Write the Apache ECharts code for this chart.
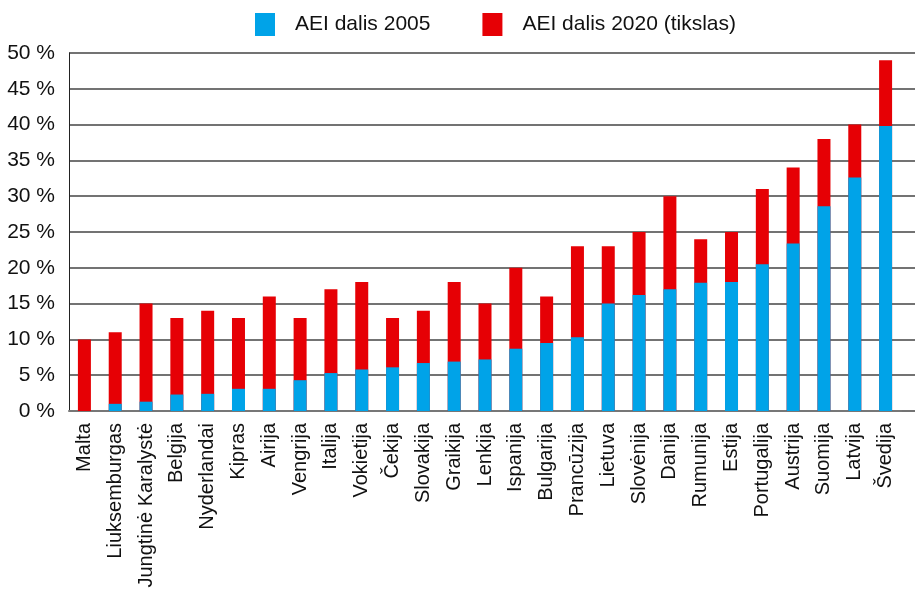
<!DOCTYPE html>
<html><head><meta charset="utf-8">
<script src="https://cdn.jsdelivr.net/npm/echarts@6/dist/echarts.min.js"></script>
<style>html,body{margin:0;padding:0;background:#fff}#c{width:923px;height:592px}</style>
</head><body><div id="c"></div>
<script>
const categories = ['Malta','Liuksemburgas','Jungtinė Karalystė','Belgija','Nyderlandai','Kipras','Airija','Vengrija','Italija','Vokietija','Čekija','Slovakija','Graikija','Lenkija','Ispanija','Bulgarija','Prancūzija','Lietuva','Slovėnija','Danija','Rumunija','Estija','Portugalija','Austrija','Suomija','Latvija','Švedija'];
const share2005 = [0, 1.0, 1.3, 2.3, 2.4, 3.1, 3.1, 4.3, 5.3, 5.8, 6.1, 6.7, 6.9, 7.2, 8.7, 9.5, 10.3, 15.0, 16.2, 17.0, 17.9, 18.0, 20.5, 23.4, 28.6, 32.6, 39.8];
const target2020 = [10, 11, 15, 13, 14, 13, 16, 13, 17, 18, 13, 14, 18, 15, 20, 16, 23, 23, 25, 30, 24, 25, 31, 34, 38, 40, 49];
const yTicks = {min: 0, max: 50, interval: 5};
const FONT = '"Liberation Sans", Arial, sans-serif';

const chart = echarts.init(document.getElementById('c'), null, {renderer: 'canvas'});
chart.setOption({
  animation: false,
  backgroundColor: '#fff',
  textStyle: {fontFamily: FONT},
  legend: {
    data: ['AEI dalis 2005', 'AEI dalis 2020 (tikslas)'],
    top: 8, left: 250,
    itemWidth: 20, itemHeight: 23, itemGap: 52,
    icon: 'rect',
    textStyle: {fontFamily: FONT, fontSize: 21, color: '#111', padding: [0, 0, 0, 15]}
  },
  grid: [
    {left: 69, right: 8, top: 53, bottom: 181, containLabel: false},
    {left: 69, right: 22, top: 53, bottom: 181, containLabel: false}
  ],
  xAxis: [
    {gridIndex: 0, type: 'value', min: 0, max: 1, show: false},
    {
      gridIndex: 1, type: 'category', data: categories,
      axisLine: {show: true, lineStyle: {color: '#777', width: 2}},
      axisTick: {show: false},
      axisLabel: {rotate: 90, interval: 0, fontFamily: FONT, fontSize: 20, color: '#111', margin: 12}
    }
  ],
  yAxis: [
    {
      gridIndex: 0, type: 'value', min: yTicks.min, max: yTicks.max, interval: yTicks.interval,
      axisLine: {show: true, lineStyle: {color: '#222', width: 1}},
      axisTick: {show: false},
      splitLine: {lineStyle: {color: '#444', width: 1.5}},
      axisLabel: {formatter: '{value} %', fontFamily: FONT, fontSize: 21, color: '#111', margin: 14}
    },
    {
      gridIndex: 1, type: 'value', min: yTicks.min, max: yTicks.max, interval: yTicks.interval,
      show: false, splitLine: {show: false}
    }
  ],
  series: [
    {name: 'AEI dalis 2020 (tikslas)', type: 'bar', xAxisIndex: 1, yAxisIndex: 1, data: target2020, barWidth: 13, itemStyle: {color: '#e60005'}, z: 2},
    {name: 'AEI dalis 2005', type: 'bar', xAxisIndex: 1, yAxisIndex: 1, data: share2005, barWidth: 13, barGap: '-100%', itemStyle: {color: '#00a3e8'}, z: 3}
  ]
});
</script></body></html>
